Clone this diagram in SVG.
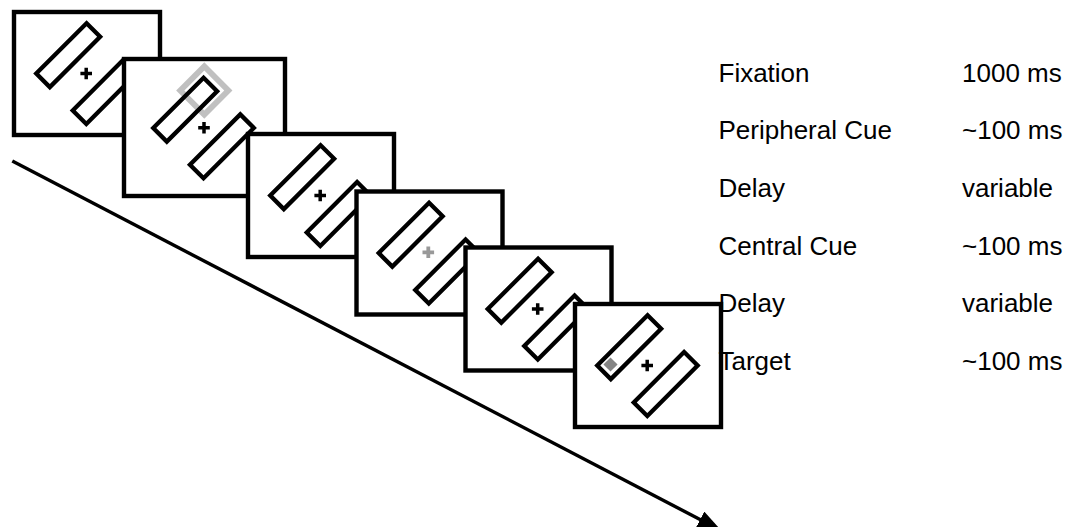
<svg xmlns="http://www.w3.org/2000/svg" xmlns:xlink="http://www.w3.org/1999/xlink" width="1077" height="527" viewBox="0 0 1077 527">
  <style>
    .frame { fill: #ffffff; stroke: #000000; stroke-width: 4.4; }
    .bar { fill: none; stroke: #000000; stroke-width: 4.3; }
    .fix { fill: none; stroke: #000000; stroke-width: 3.5; }
    .fix-cue { fill: none; stroke: #999999; stroke-width: 3.8; }
    .peri-cue { fill: none; stroke: #c0c0c0; stroke-width: 5.8; }
    .target { fill: #858585; stroke: none; }
    .time { fill: none; stroke: #000000; stroke-width: 3.4; }
    .label { font-family: "Liberation Sans", Arial, sans-serif; font-size: 26px; fill: #000000; }
  </style>
  <defs>
    <!-- placeholder box, long axis horizontal, rotated in place -->
    <rect id="bar" x="-35.6" y="-9.6" width="71.2" height="19.2"/>
    <!-- fixation cross -->
    <path id="cross" d="M-5.8,0 H5.8 M0,-5.8 V5.8"/>
    <!-- standard display frame (150 x 127 outer) -->
    <rect id="frame" x="-73" y="-61.5" width="146" height="123"/>
    <marker id="arrowhead" viewBox="0 0 24 18" refX="1" refY="9" markerWidth="24" markerHeight="18" markerUnits="userSpaceOnUse" orient="auto">
      <path d="M0,0 L24,9 L0,18 z" fill="#000000"/>
    </marker>
  </defs>

  <!-- time axis -->
  <g id="connectors">
    <line class="time" x1="12.3" y1="161" x2="701" y2="520" marker-end="url(#arrowhead)"/>
  </g>

  <!-- 1: fixation -->
  <g id="fixation" transform="translate(87,73.5)">
    <use href="#frame" class="frame"/>
    <use href="#bar" class="bar" transform="translate(-18.8,-18.3) rotate(-45)"/>
    <use href="#bar" class="bar" transform="translate(17.7,18.5) rotate(-45)"/>
    <use href="#cross" class="fix" transform="translate(-0.8,0)"/>
  </g>

  <!-- 2: peripheral cue (larger display) -->
  <g id="peripheral-cue" transform="translate(204.5,127.5)">
    <rect class="frame" x="-80.5" y="-68.5" width="161" height="137"/>
    <rect class="peri-cue" x="-17" y="-17" width="34" height="34" transform="translate(-0.2,-37) rotate(45)"/>
    <use href="#bar" class="bar" transform="translate(-19.3,-17.8) rotate(-45)"/>
    <use href="#bar" class="bar" transform="translate(17.4,18.8) rotate(-45)"/>
    <use href="#cross" class="fix" transform="translate(-0.5,0.2)"/>
  </g>

  <!-- 3: delay -->
  <g id="delay-1" transform="translate(321,195.5)">
    <use href="#frame" class="frame"/>
    <use href="#bar" class="bar" transform="translate(-18.8,-18.3) rotate(-45)"/>
    <use href="#bar" class="bar" transform="translate(17.7,18.5) rotate(-45)"/>
    <use href="#cross" class="fix" transform="translate(-0.8,0)"/>
  </g>

  <!-- 4: central cue -->
  <g id="central-cue" transform="translate(429.5,253)">
    <use href="#frame" class="frame"/>
    <use href="#bar" class="bar" transform="translate(-18.8,-18.3) rotate(-45)"/>
    <use href="#bar" class="bar" transform="translate(17.7,18.5) rotate(-45)"/>
    <use href="#cross" class="fix-cue" transform="translate(-1.2,-0.7)"/>
  </g>

  <!-- 5: delay -->
  <g id="delay-2" transform="translate(538.5,309)">
    <use href="#frame" class="frame"/>
    <use href="#bar" class="bar" transform="translate(-18.8,-18.3) rotate(-45)"/>
    <use href="#bar" class="bar" transform="translate(17.7,18.5) rotate(-45)"/>
    <use href="#cross" class="fix" transform="translate(-0.8,0)"/>
  </g>

  <!-- 6: target -->
  <g id="target" transform="translate(648,365.5)">
    <use href="#frame" class="frame"/>
    <rect class="target" x="-5" y="-5" width="10" height="10" transform="translate(-37.5,-1) rotate(45)"/>
    <use href="#bar" class="bar" transform="translate(-18.8,-18.3) rotate(-45)"/>
    <use href="#bar" class="bar" transform="translate(17.7,18.5) rotate(-45)"/>
    <use href="#cross" class="fix" transform="translate(-0.8,0)"/>
  </g>

  <!-- event labels and durations -->
  <g id="legend">
    <text class="label" x="718.5" y="81.7">Fixation</text>
    <text class="label" x="962" y="81.7">1000 ms</text>
    <text class="label" x="718.5" y="139.3">Peripheral Cue</text>
    <text class="label" x="962" y="139.3">~100 ms</text>
    <text class="label" x="718.5" y="196.9">Delay</text>
    <text class="label" x="962" y="196.9">variable</text>
    <text class="label" x="718.5" y="254.5">Central Cue</text>
    <text class="label" x="962" y="254.5">~100 ms</text>
    <text class="label" x="718.5" y="312.1">Delay</text>
    <text class="label" x="962" y="312.1">variable</text>
    <text class="label" x="718.5" y="369.7">Target</text>
    <text class="label" x="962" y="369.7">~100 ms</text>
  </g>
</svg>
